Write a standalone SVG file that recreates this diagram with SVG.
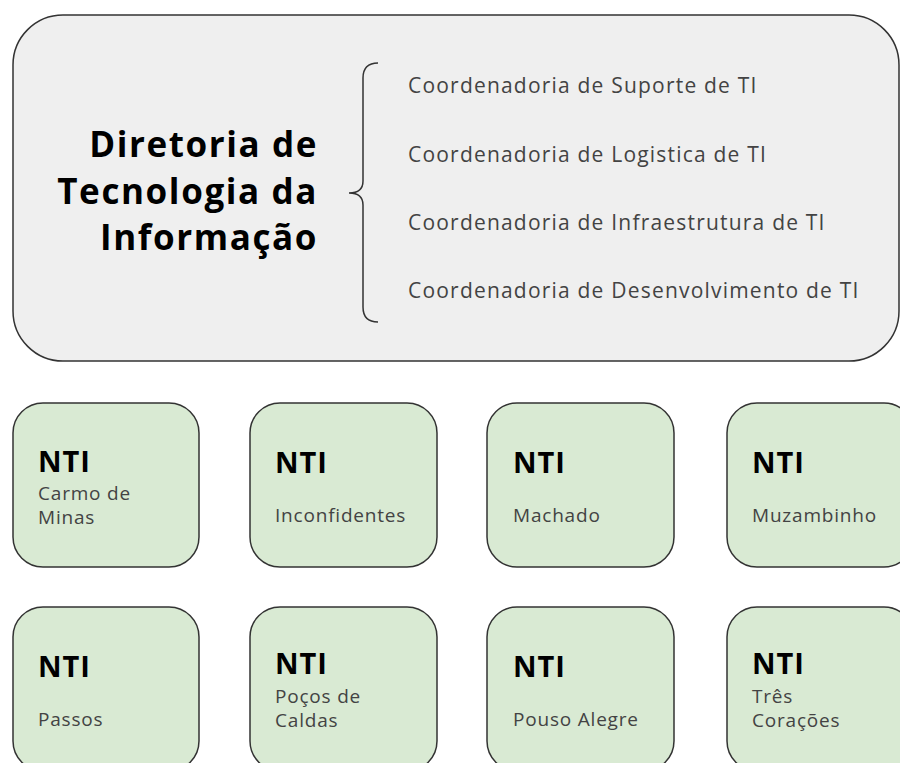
<svg xmlns="http://www.w3.org/2000/svg" width="900" height="763" viewBox="0 0 900 763">
<style>
.big{fill:#efefef;stroke:#333;stroke-width:1.5}
.nti{fill:#d9ead3;stroke:#333;stroke-width:1.5}
.title{font-family:"Open Sans","Liberation Sans",sans-serif;font-weight:700;font-size:35px;letter-spacing:1.6px;fill:#000;text-anchor:end}
.coord{font-family:"Open Sans","Liberation Sans",sans-serif;font-size:21px;letter-spacing:1.2px;fill:#434343}
.h{font-family:"Open Sans","Liberation Sans",sans-serif;font-weight:700;font-size:29px;letter-spacing:1px;fill:#000}
.s{font-family:"Open Sans","Liberation Sans",sans-serif;font-size:19px;letter-spacing:0.8px;fill:#434343}
.br{fill:none;stroke:#333;stroke-width:1.5}
</style>
<g id="diretoria">
<rect class="big" x="13" y="15" width="886" height="346" rx="50" ry="50"/>
<text class="title" x="318" y="157">Diretoria de</text>
<text class="title" x="318" y="204">Tecnologia da</text>
<text class="title" x="318" y="250">Informação</text>
<path class="br" d="M378,63 Q363,63 363,78 L363,181 Q363,193 349,193 Q363,193 363,205 L363,307 Q363,322 378,322"/>
<text class="coord" x="408" y="93">Coordenadoria de Suporte de TI</text>
<text class="coord" x="408" y="162">Coordenadoria de Logistica de TI</text>
<text class="coord" x="408" y="230">Coordenadoria de Infraestrutura de TI</text>
<text class="coord" x="408" y="298">Coordenadoria de Desenvolvimento de TI</text>
</g>
<g id="connectors"></g>
<g id="nti-carmo">
<rect class="nti" x="13" y="403" width="186" height="164" rx="30"/>
<text class="h" x="38" y="472">NTI</text>
<text class="s" x="38" y="500">Carmo de</text>
<text class="s" x="38" y="524">Minas</text>
</g>
<g id="nti-inconfidentes">
<rect class="nti" x="250" y="403" width="187" height="164" rx="30"/>
<text class="h" x="275" y="473">NTI</text>
<text class="s" x="275" y="522">Inconfidentes</text>
</g>
<g id="nti-machado">
<rect class="nti" x="487" y="403" width="187" height="164" rx="30"/>
<text class="h" x="513" y="473">NTI</text>
<text class="s" x="513" y="522">Machado</text>
</g>
<g id="nti-muzambinho">
<rect class="nti" x="727" y="403" width="187" height="164" rx="30"/>
<text class="h" x="752" y="473">NTI</text>
<text class="s" x="752" y="522">Muzambinho</text>
</g>
<g id="nti-passos">
<rect class="nti" x="13" y="607" width="186" height="164" rx="30"/>
<text class="h" x="38" y="677">NTI</text>
<text class="s" x="38" y="726">Passos</text>
</g>
<g id="nti-pocos">
<rect class="nti" x="250" y="607" width="187" height="164" rx="30"/>
<text class="h" x="275" y="674">NTI</text>
<text class="s" x="275" y="703">Poços de</text>
<text class="s" x="275" y="727">Caldas</text>
</g>
<g id="nti-pouso">
<rect class="nti" x="487" y="607" width="187" height="164" rx="30"/>
<text class="h" x="513" y="677">NTI</text>
<text class="s" x="513" y="726">Pouso Alegre</text>
</g>
<g id="nti-tres">
<rect class="nti" x="727" y="607" width="187" height="164" rx="30"/>
<text class="h" x="752" y="674">NTI</text>
<text class="s" x="752" y="703">Três</text>
<text class="s" x="752" y="727">Corações</text>
</g>
</svg>
